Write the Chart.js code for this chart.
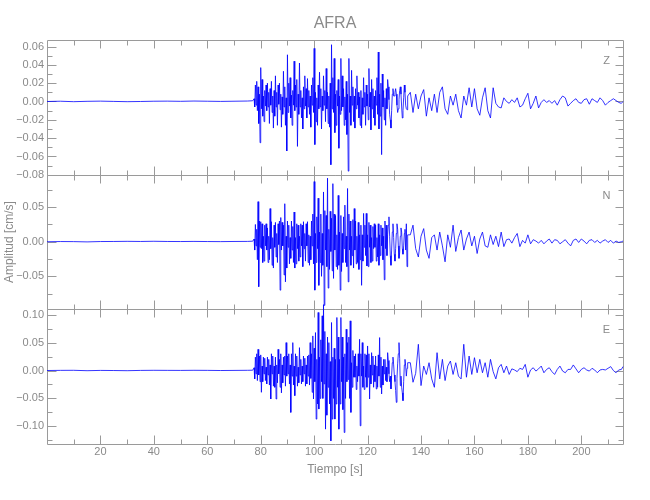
<!DOCTYPE html>
<html>
<head>
<meta charset="utf-8">
<title>AFRA</title>
<script src="https://cdn.jsdelivr.net/npm/chart.js@4.4.1/dist/chart.umd.min.js"></script>
<style>
  html, body { margin: 0; padding: 0; background: #fff; }
  canvas { display: block; }
</style>
</head>
<body>
<canvas id="sismo" width="650" height="500"></canvas>
<script>
// tiempo de cada muestra [s], comun a las tres componentes
const tiempo = [
  0,5,10,15,20,25,30,35,40,45,50,55,60,65,70,75,77,
  77.5,77.75,78,78.25,78.5,78.75,79,79.25,79.5,79.75,
  80,80.25,80.5,80.75,81,81.25,81.5,81.75,82,82.25,
  82.5,82.75,83,83.25,83.5,83.75,84,84.25,84.5,84.75,
  85,85.25,85.5,85.75,86,86.25,86.5,86.75,87,87.25,
  87.5,87.75,88,88.25,88.5,88.75,89,89.25,89.5,89.75,
  90,90.25,90.5,90.75,91,91.25,91.5,91.75,92,92.25,
  92.5,92.75,93,93.25,93.5,93.75,94,94.25,94.5,94.75,
  95,95.25,95.5,95.75,96,96.25,96.5,96.75,97,97.25,
  97.5,97.75,98,98.25,98.5,98.75,99,99.25,99.5,99.75,
  100,100.25,100.5,100.75,101,101.25,101.5,101.75,102,102.25,
  102.5,102.75,103,103.25,103.5,103.75,104,104.25,104.5,104.75,
  105,105.25,105.5,105.75,106,106.25,106.5,106.75,107,107.25,
  107.5,107.75,108,108.25,108.5,108.75,109,109.25,109.5,109.75,
  110,110.25,110.5,110.75,111,111.25,111.5,111.75,112,112.25,
  112.5,112.75,113,113.25,113.5,113.75,114,114.25,114.5,114.75,
  115,115.25,115.5,115.75,116,116.25,116.5,116.75,117,117.25,
  117.5,117.75,118,118.25,118.5,118.75,119,119.25,119.5,119.75,
  120,120.25,120.5,120.75,121,121.25,121.5,121.75,122,122.25,
  122.5,122.75,123,123.25,123.5,123.75,124,124.25,124.5,124.75,
  125,125.25,125.5,125.75,126,126.25,126.5,126.75,127,127.25,
  127.5,127.75,128,128.25,128.5,128.75,129,129.25,129.5,129.75,
  130,130.25,130.5,130.75,131,131.25,131.5,131.75,132,132.25,
  132.5,132.75,133,133.25,133.5,133.75,134,134.25,134.5,134.75,
  135,
  136,137,138,139,140,141,142,143,144,145,
  146,147,148,149,150,151,152,153,154,155,
  156,157,158,159,160,161,162,163,164,165,
  166,167,168,169,170,171,172,173,174,175,
  176,177,178,179,180,181,182,183,184,185,
  186,187,188,189,190,191,192,193,194,195,
  196,197,198,199,200,201,202,203,204,205,
  206,207,208,209,210,211,212,213,214,215,
  215.6
];

// amplitudes en milesimas de cm/s
const compZ = [
  0,0.3,-0.2,0.2,0.4,0.1,-0.2,0,0.3,0.4,0.2,0.5,0.3,0.1,0.3,0.5,0.8,
  3,-6,18,-4,22,-10,16,-24,8,-45,
  37,-8,24,-16,6,-22,12,-5,18,-10,
  20,-6,10,-24,14,-4,22,-12,6,-29,
  12,-16,28,-6,10,-26,18,-3,20,-9,
  8,-28,5,-14,33,-6,16,-26,4,-54,
  51,-12,20,-5,26,-18,7,-26,12,-4,
  44,-10,18,-6,24,-49,8,-14,42,-6,
  12,-18,4,-30,16,-8,28,-5,14,-18,
  25,-6,12,-14,6,-28,18,-4,26,-12,
  58,-47,10,-22,4,-26,18,-8,32,-6,
  14,-30,6,-10,28,-4,12,-22,36,-8,
  10,-24,6,-28,20,-69,62,-8,26,-12,
  47,-34,8,-26,12,-5,24,-51,6,-14,
  47,-10,28,-6,14,-26,5,-20,22,-36,
  8,-76,47,-12,6,-26,34,-4,16,-22,
  6,-29,14,-8,28,-4,10,-18,5,-26,
  12,-29,4,-14,26,-6,10,-26,18,-5,
  8,-20,36,-6,10,-31,24,-8,14,-18,
  6,-26,12,-4,26,-14,54,-30,8,-16,
  20,-58,30,-6,12,-20,4,-26,14,-8,
  24,16,2,-14,-20,-29,-10,8,14,6,
  6,10,14,8,-4,-12,-8,2,12,16,
  8,-6,-18,-10,4,18,10,-4,-8,-9,
  6,
  10,-12,8,-8,6,13,-16,4,-10,8,
  -12,10,16,-8,-14,6,-4,8,-10,-18,
  6,-4,15,-6,14,-8,-15,4,15,-10,
  -18,15,-2,-6,-7,4,0,-2,2,-1,
  4,-6,-4,3,9,-8,-2,6,-7,-1,
  2,-1,1,-2,1,-4,2,6,4,-5,
  -2,1,3,-1,-2,2,3,-3,3,1,
  -1,4,1,-4,-1,1,3,1,-1,-2,
  0
];

const compN = [
  0,0.3,0.2,-0.2,0.3,0.4,0.6,0.4,0.7,0.4,0.3,0.5,0.3,0.2,0.4,0.5,0.8,
  4,-12,25,-6,18,-26,58,-65,30,-8,
  29,-10,26,-30,8,-28,24,-6,26,-12,
  20,-30,8,-26,48,-10,29,-34,6,-38,
  24,-8,28,-22,12,-30,26,-4,30,-70,
  35,-12,28,-6,24,-48,55,-58,8,-38,
  30,-8,24,-32,6,-24,30,-12,22,-30,
  43,-38,6,-32,26,-10,24,-28,8,-22,
  26,-6,24,-36,29,-10,12,-28,26,-6,
  29,-30,10,-34,8,-26,30,-6,40,-32,
  87,-70,12,-30,36,-10,63,-63,14,-30,
  40,-50,12,-34,72,-92,45,-12,38,-36,
  92,-67,18,-40,44,-14,34,-42,84,-53,
  40,-12,38,-36,10,-40,67,-34,14,-70,
  38,-43,12,-30,36,-10,53,-30,8,-36,
  77,-58,40,-12,30,-34,8,-20,32,-38,
  48,-12,30,-32,8,-30,28,-40,10,-26,
  24,-63,10,-28,41,-8,24,-20,41,-35,
  10,-36,28,-8,24,-30,6,-28,22,-10,
  26,-8,24,-28,6,-22,26,-34,10,-20,
  24,-6,20,-26,8,-55,30,-10,24,-20,
  10,24,36,8,-20,-34,-12,14,26,6,
  -18,-28,-10,12,26,18,-6,-24,-16,8,
  20,14,-10,-18,-6,12,18,-12,26,-36,
  10,
  10,24,-10,-22,8,19,-12,-24,6,10,
  -12,14,-6,-29,10,-8,24,-14,6,17,
  -12,4,14,-6,8,-17,4,14,-6,-8,
  10,-4,8,-7,14,-7,3,4,-2,6,
  12,-7,2,-2,10,-3,3,1,-2,2,
  -3,1,4,-2,3,2,-3,0,3,-2,
  -6,2,4,-1,4,1,-3,2,3,-1,
  2,-2,1,3,-1,2,-2,1,-1,0,
  1
];

const compE = [
  0,0.3,0.4,-0.3,0.2,0,-0.3,0.2,0.4,0.3,0.2,0.4,0.3,0,0.2,0.4,0.6,
  5,-15,24,-6,30,-18,38,-8,26,-20,
  28,-39,8,-20,24,-6,22,-18,6,-24,
  24,-8,20,-26,10,-51,30,-6,26,-28,
  8,-30,24,-51,10,-22,38,-6,20,-30,
  30,-40,10,-22,24,-8,26,-28,50,-10,
  26,-6,30,-24,10,-75,30,-10,50,-26,
  8,-45,30,-10,26,-28,6,-22,41,-8,
  20,-24,8,-20,26,-6,22,-28,10,-24,
  26,-10,28,-26,50,-14,30,-39,62,-51,
  40,-20,68,-87,20,-60,104,-69,24,-50,
  55,-20,98,-50,118,-24,70,-105,30,-80,
  60,-30,50,-60,16,-126,86,-87,24,-50,
  40,-87,20,-60,95,-30,60,-105,20,-60,
  95,-20,60,-70,24,-111,30,-50,74,-20,
  50,-16,60,-50,89,-75,14,-30,36,-12,
  26,-12,30,-34,8,-20,30,-10,56,-99,
  30,-10,50,-30,8,-34,30,-12,28,-30,
  44,-12,30,-51,10,-24,32,-8,26,-30,
  10,-20,26,-33,8,-30,28,-10,59,-30,
  24,-42,8,-26,20,-6,20,-18,6,-20,
  32,18,-6,-20,-10,-33,-8,14,24,10,
  -8,-20,-36,-57,-14,12,30,50,22,-27,
  -10,-30,-40,-54,-20,10,20,8,-10,4,
  14,
  14,-21,-5,47,-27,8,-7,14,-15,-30,
  32,-15,20,-18,8,17,-7,14,-10,-15,
  47,-12,26,-7,23,-4,20,-4,14,-12,
  20,-2,-15,5,11,-4,8,-7,3,1,
  -2,4,2,11,-12,1,5,-1,3,8,
  -4,2,5,-2,-7,2,8,-1,-4,2,
  2,10,3,-4,2,5,1,-1,4,1,
  -4,1,2,1,4,7,0,-4,1,2,
  7
];

// marcas de los ejes
const xMayores = [20, 40, 60, 80, 100, 120, 140, 160, 180, 200];
const xMenores = [10, 30, 50, 70, 90, 110, 130, 150, 170, 190, 210];
const zMayores = [-0.08, -0.06, -0.04, -0.02, 0, 0.02, 0.04, 0.06];
const zMenores = [-0.07, -0.05, -0.03, -0.01, 0.01, 0.03, 0.05];
const nMayores = [-0.05, 0, 0.05];
const nMenores = [-0.075, -0.025, 0.025, 0.075];
const eMayores = [-0.10, -0.05, 0, 0.05, 0.10];
const eMenores = [-0.125, -0.075, -0.025, 0.025, 0.075];

const gris = '#9a9a9a';
const grisTexto = '#8a8a8a';
const familia = "'Liberation Sans', Arial, sans-serif";

function serie(vals) {
  return vals.map((v, i) => ({ x: tiempo[i], y: v / 1000 }));
}

function etiquetaY(v) {
  return v.toFixed(2).replace('-', '\u2212');
}

function ejeY(min, max, mayores, titulo) {
  return {
    type: 'linear',
    position: 'left',
    stack: 'componentes',
    stackWeight: 1,
    min: min,
    max: max,
    afterBuildTicks: s => { s.ticks = mayores.map(v => ({ value: v })); },
    afterFit: s => { s.width = 47; },
    ticks: { color: grisTexto, font: { family: familia, size: 11 }, padding: 3, autoSkip: false, callback: etiquetaY },
    grid: { display: false, drawTicks: false },
    border: { display: false },
    title: {
      display: !!titulo,
      text: titulo || '',
      color: grisTexto,
      font: { family: familia, size: 12 },
      padding: { top: 2, bottom: 0 }
    }
  };
}

const paneles = [
  { eje: 'yZ', rotulo: 'Z', mayores: zMayores, menores: zMenores },
  { eje: 'yN', rotulo: 'N', mayores: nMayores, menores: nMenores },
  { eje: 'yE', rotulo: 'E', mayores: eMayores, menores: eMenores }
];

// marco estilo IDL: caja por panel con marcas hacia dentro
const marcoIDL = {
  id: 'marcoIDL',
  beforeDatasetsDraw(chart) {
    const ctx = chart.ctx;
    const x = chart.scales.x;
    const l = Math.round(x.left) + 0.5;
    const r = Math.round(x.right) + 0.5;
    const linea = (x1, y1, x2, y2) => { ctx.moveTo(x1, y1); ctx.lineTo(x2, y2); };
    ctx.save();
    ctx.strokeStyle = gris;
    ctx.lineWidth = 1;
    paneles.forEach(p => {
      const y = chart.scales[p.eje];
      const top = Math.round(y.top) + 0.5;
      const bot = Math.round(y.bottom) + 0.5;
      ctx.beginPath();
      ctx.rect(l, top, r - l, bot - top);
      p.mayores.forEach(v => {
        const py = Math.round(y.getPixelForValue(v)) + 0.5;
        linea(l, py, l + 9, py);
        linea(r, py, r - 8, py);
      });
      p.menores.forEach(v => {
        const py = Math.round(y.getPixelForValue(v)) + 0.5;
        linea(l, py, l + 5, py);
        linea(r, py, r - 5, py);
      });
      xMayores.forEach(v => {
        const px = Math.round(x.getPixelForValue(v)) + 0.5;
        linea(px, bot, px, bot - 9);
        linea(px, top, px, top + 8);
      });
      xMenores.forEach(v => {
        const px = Math.round(x.getPixelForValue(v)) + 0.5;
        linea(px, bot, px, bot - 5);
        linea(px, top, px, top + 5);
      });
      ctx.stroke();
      ctx.fillStyle = grisTexto;
      ctx.font = '11px ' + familia;
      ctx.textAlign = 'center';
      ctx.textBaseline = 'middle';
      ctx.fillText(p.rotulo, r - 17, y.top + 21);
    });
    ctx.restore();
  }
};

const traza = (vals, eje) => ({
  data: serie(vals),
  yAxisID: eje,
  borderColor: '#0000ff',
  borderWidth: 0.8,
  pointRadius: 0,
  tension: 0,
  clip: false
});

new Chart(document.getElementById('sismo'), {
  type: 'line',
  data: {
    datasets: [
      traza(compZ, 'yZ'),
      traza(compN, 'yN'),
      traza(compE, 'yE')
    ]
  },
  options: {
    responsive: false,
    animation: false,
    devicePixelRatio: 1,
    parsing: false,
    events: [],
    layout: { padding: { left: 0, right: 27, top: 0, bottom: 20 } },
    plugins: {
      legend: { display: false },
      tooltip: { enabled: false },
      title: {
        display: true,
        text: 'AFRA',
        fullSize: false,
        color: grisTexto,
        font: { family: familia, size: 16, weight: 'normal' },
        padding: { top: 14, bottom: 7 }
      }
    },
    scales: {
      x: {
        type: 'linear',
        position: 'bottom',
        min: 0,
        max: 215.6,
        afterBuildTicks: s => { s.ticks = xMayores.map(v => ({ value: v })); },
        afterFit: s => { s.height = 36; },
        ticks: { color: grisTexto, font: { family: familia, size: 11 }, padding: 1, maxRotation: 0, autoSkip: false },
        grid: { display: false, drawTicks: false },
        border: { display: false },
        title: {
          display: true,
          text: 'Tiempo [s]',
          color: grisTexto,
          font: { family: familia, size: 12 },
          padding: { top: 0, bottom: 3 }
        }
      },
      // los ejes apilados se colocan de abajo hacia arriba
      yE: ejeY(-0.1316, 0.1095, eMayores),
      yN: ejeY(-0.0978, 0.0968, nMayores, 'Amplitud [cm/s]'),
      yZ: ejeY(-0.08, 0.0669, zMayores)
    }
  },
  plugins: [marcoIDL]
});
</script>
</body>
</html>
